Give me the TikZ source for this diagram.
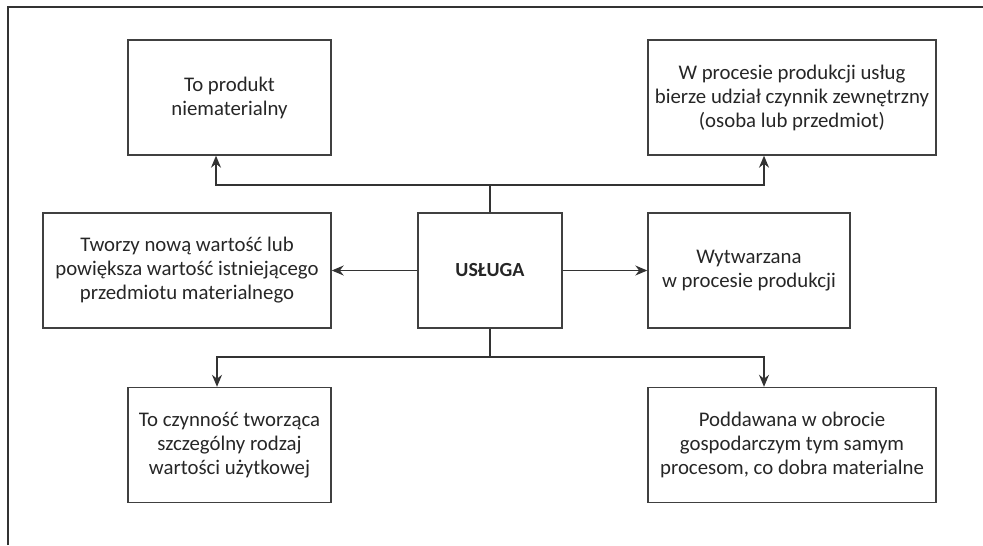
\documentclass[tikz,border=0pt]{standalone}
\usepackage{fontspec}
\setmainfont{Carlito}
\usetikzlibrary{positioning,arrows.meta}

\begin{document}
\begin{tikzpicture}[x=0.5pt, y=-0.5pt, font=\fontsize{10.4}{12}\selectfont,
    box/.style={draw=black!75, line width=0.7pt, align=center, inner sep=1pt,
        text=black!85, minimum height=57.5pt},
    link/.style={draw=black!80, line width=0.7pt},
    arr/.style={link, -{Stealth[length=6pt, width=5pt]}}]
\useasboundingbox (0,0) rectangle (983,545);
% Frame (top and left edge only)
\draw[link] (8,545) -- (8,7) -- (983,7);

% Central node
\node[box, minimum width=72pt, font=\fontsize{10}{12}\selectfont\bfseries]
    (usluga) at (490,270.5) {USŁUGA};

% Top row
\node[box, minimum width=101.5pt] (produkt) at (229.5,97.5)
    {To produkt\\niematerialny};
\node[box, minimum width=144pt] (czynnik) at (792,97.5)
    {W procesie produkcji usług\\bierze udział czynnik zewnętrzny\\(osoba lub przedmiot)};

% Middle row
\node[box, minimum width=144pt] (wartosc) at (187,270.5)
    {Tworzy nową wartość lub\\powiększa wartość istniejącego\\przedmiotu materialnego};
\node[box, minimum width=101pt] (wytwarzana) at (749,270.5)
    {Wytwarzana\\w procesie produkcji};

% Bottom row
\node[box, minimum width=101.5pt] (czynnosc) at (229.5,445)
    {To czynność tworząca\\szczególny rodzaj\\wartości użytkowej};
\node[box, minimum width=144pt] (poddawana) at (792,445)
    {Poddawana w obrocie\\gospodarczym tym samym\\procesom, co dobra materialne};

% Bus corners
\coordinate (busTL) at (216,185);
\coordinate (busTR) at (764,185);
\coordinate (busBL) at (217,357);
\coordinate (busBR) at (764,357);

% Connectors
\draw[arr] (usluga.north) |- (busTL) -- (busTL |- produkt.south);
\draw[arr] (usluga.north) |- (busTR) -- (busTR |- czynnik.south);
\draw[arr] (usluga.west) -- (wartosc.east);
\draw[arr] (usluga.east) -- (wytwarzana.west);
\draw[arr] (usluga.south) |- (busBL) -- (busBL |- czynnosc.north);
\draw[arr] (usluga.south) |- (busBR) -- (busBR |- poddawana.north);
\end{tikzpicture}
\end{document}
